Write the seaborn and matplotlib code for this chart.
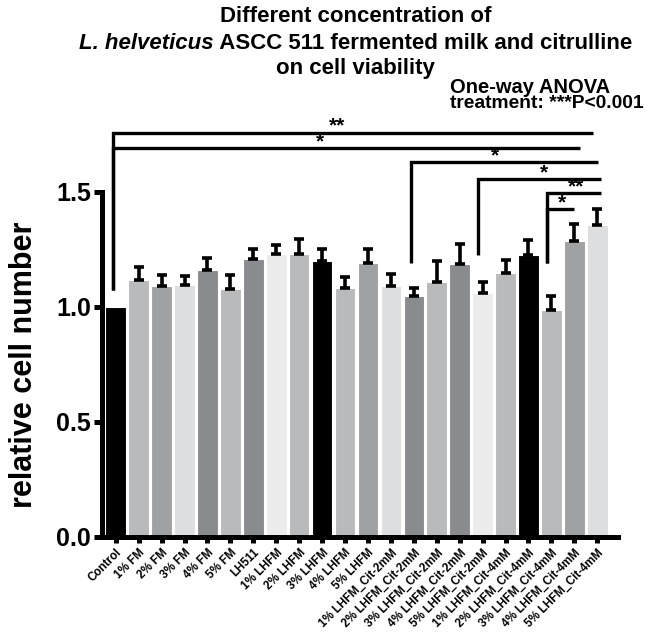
import numpy as np
import pandas as pd
import matplotlib
matplotlib.use("Agg")
import matplotlib.pyplot as plt
import seaborn as sns

# ── data ─────────────────────────────────────────────────────────
groups = [
    "Control", "1% FM", "2% FM", "3% FM", "4% FM", "5% FM", "LH511",
    "1% LHFM", "2% LHFM", "3% LHFM", "4% LHFM", "5% LHFM",
    "1% LHFM_Cit-2mM", "2% LHFM_Cit-2mM", "3% LHFM_Cit-2mM",
    "4% LHFM_Cit-2mM", "5% LHFM_Cit-2mM",
    "1% LHFM_Cit-4mM", "2% LHFM_Cit-4mM", "3% LHFM_Cit-4mM",
    "4% LHFM_Cit-4mM", "5% LHFM_Cit-4mM",
]
means = [1.00, 1.116, 1.093, 1.097, 1.161, 1.080, 1.210,
         1.229, 1.230, 1.201, 1.084, 1.190,
         1.091, 1.049, 1.107, 1.186, 1.059,
         1.149, 1.226, 0.988, 1.286, 1.355]
sem = [0.0, 0.059, 0.045, 0.036, 0.053, 0.061, 0.044,
       0.042, 0.064, 0.053, 0.046, 0.061,
       0.051, 0.032, 0.092, 0.089, 0.051,
       0.055, 0.065, 0.058, 0.076, 0.070]

# significance brackets: (left x, right x, top y, bottom y, label, star x)
brackets = [
    (-0.12, 20.83, 1.758, 1.074, "**", 9.65),
    (-0.12, 20.26, 1.690, 1.074, "*", 8.90),
    (12.86, 21.04, 1.629, 1.190, "*", 16.56),
    (15.80, 21.17, 1.557, 1.226, "*", 18.69),
    (18.80, 21.17, 1.494, 1.190, "**", 20.08),
    (18.80, 19.98, 1.426, 1.190, "*", 19.47),
]

# ── styling ──────────────────────────────────────────────────────
BLK, LT, MD, PL, DK, VP = "#000000", "#b9babc", "#a0a1a3", "#dddee0", "#8a8b8e", "#ebeceb"
palette = [BLK, LT, MD, PL, DK, LT, DK, VP, LT, BLK, LT, MD,
           PL, DK, LT, DK, VP, LT, BLK, LT, MD, PL]

sns.set_style("ticks")
plt.rcParams["font.family"] = ["Liberation Sans", "DejaVu Sans"]
plt.rcParams["font.weight"] = "bold"
for key in ["text.color", "axes.labelcolor", "axes.edgecolor",
            "xtick.color", "ytick.color"]:
    plt.rcParams[key] = "black"

df = pd.DataFrame({"group": groups, "value": means, "sem": sem})

fig = plt.figure(figsize=(6.47, 6.33), dpi=100)
ax = fig.add_axes([0.158, 0.1517, 0.797, 0.545])

sns.barplot(data=df, x="group", y="value", hue="group", palette=palette,
            legend=False, width=0.9, edgecolor="white", linewidth=0.8,
            saturation=1, ax=ax)

# upper-only error bars (control is the reference, no bar)
xs = np.arange(len(groups))
has_err = df["sem"].to_numpy() > 0
err = df.loc[has_err, "sem"].to_numpy()
ax.errorbar(xs[has_err], df.loc[has_err, "value"], yerr=[np.zeros(len(err)), err],
            fmt="none", ecolor="black", elinewidth=2.6, capsize=3.4,
            capthick=2.6, zorder=3)

ax.set_xlim(-0.59, 21.9)
ax.set_ylim(0, 1.5)
ax.set_yticks([0.0, 0.5, 1.0, 1.5])
ax.set_yticklabels(["0.0", "0.5", "1.0", "1.5"], fontsize=18, fontweight="bold")
ax.set_xticks(xs)
ax.set_xticklabels(groups, rotation=45, ha="right", va="top",
                   rotation_mode="anchor", fontsize=8.4, fontweight="bold")
ax.set_xlabel("")
ax.set_ylabel("relative cell number", fontsize=22, fontweight="bold")
ax.yaxis.set_label_coords(-0.122, 0.5)

for side in ["top", "right"]:
    ax.spines[side].set_visible(False)
for side in ["left", "bottom"]:
    ax.spines[side].set_linewidth(3.6)
    ax.spines[side].set_color("black")
ax.tick_params(axis="y", length=6, width=3.6, pad=2, colors="black")
ax.tick_params(axis="x", length=4, width=3.6, pad=3, colors="black")

# significance brackets
for x0, x1, ytop, ybot, lab, sx in brackets:
    ax.plot([x0, x0, x1], [ybot, ytop, ytop], color="black", lw=2.4,
            clip_on=False, solid_capstyle="butt", solid_joinstyle="miter")
    ax.text(sx, ytop + 0.004, lab, ha="center", va="baseline", fontsize=15,
            fontweight="bold", clip_on=False)

# title (middle line mixes italic and upright text)
cx = 0.55
fig.text(cx, 0.974, "Different concentration of", ha="center", va="center",
         fontsize=16, fontweight="bold")
fig.text(cx, 0.892, "on cell viability", ha="center", va="center",
         fontsize=16, fontweight="bold")
t_it = fig.text(0, 0.932, "L. helveticus", ha="left", va="center",
                fontsize=16, fontweight="bold", style="italic")
t_rm = fig.text(0, 0.932, " ASCC 511 fermented milk and citrulline", ha="left",
                va="center", fontsize=16, fontweight="bold")
r = fig.canvas.get_renderer()
w_it = t_it.get_window_extent(r).width / fig.bbox.width
w_rm = t_rm.get_window_extent(r).width / fig.bbox.width
x_start = cx - (w_it + w_rm) / 2
t_it.set_x(x_start)
t_rm.set_x(x_start + w_it)

fig.text(0.696, 0.862, "One-way ANOVA", ha="left", va="center",
         fontsize=14.5, fontweight="bold")
fig.text(0.696, 0.836, "treatment: ***P<0.001", ha="left", va="center",
         fontsize=13.9, fontweight="bold")

fig.savefig("out.png", dpi=100)
